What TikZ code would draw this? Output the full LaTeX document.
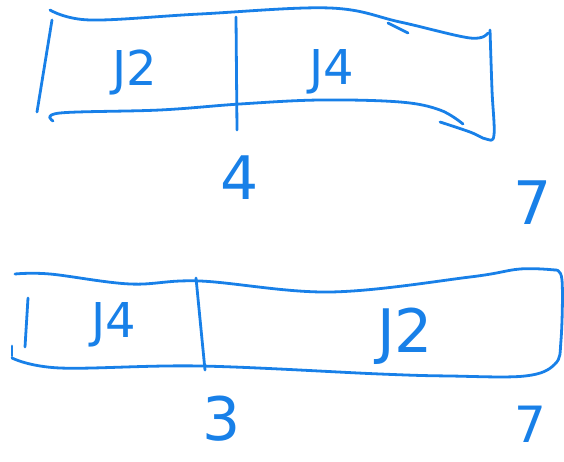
\documentclass[tikz,border=0pt]{standalone}
\usepackage{fontspec}
\setmainfont{DejaVu Sans}
\definecolor{ink}{RGB}{24,128,232}
\begin{document}
\begin{tikzpicture}[x=1pt,y=-1pt,
  stroke/.style={draw=ink,line width=2.8pt,line cap=round,line join=round},
  lbl/.style={text=ink,font=\fontsize{48}{48}\selectfont,inner sep=0pt},
  big/.style={text=ink,font=\fontsize{60}{60}\selectfont,inner sep=0pt}]
\useasboundingbox (0,0) rectangle (564,462);
% ---- top chart ----
\draw[stroke] plot[smooth,tension=0.6] coordinates {(50,10) (90,20) (200,14) (330,8) (400,22) (470,38) (488,33)};
\draw[stroke] (388,23) -- (408,33);
\draw[stroke] (52,20) -- (37,112);
\draw[stroke] plot[smooth,tension=0.6] coordinates {(490,30) (492,90) (494,135) (486,139) (470,132) (440,122)};
\draw[stroke] plot[smooth,tension=0.6] coordinates {(53,121) (60,113) (160,110) (240,104) (320,100) (400,102) (440,110) (463,124)};
\coordinate (d1t) at (236,17);
\coordinate (d1b) at (237,130);
\draw[stroke] (d1t) -- (d1b);
\node[lbl] (j2a) at (135,72) {J2};
\node[lbl] (j4a) at (332,72) {J4};
\node[big] (t4) at (240,178) {4};
\node[big] (t7a) at (533,203) {7};
% ---- bottom chart ----
\draw[stroke] plot[smooth,tension=0.6] coordinates {(15,274) (50,274) (130,284) (200,281) (330,292) (470,277) (520,269) (555,270)};
\draw[stroke] plot[smooth,tension=0.6] coordinates {(555,270) (562,280) (561,340) (555,364) (525,376) (450,376) (380,374) (200,366) (60,368) (12,358)};
\draw[stroke] (12,346) -- (12,356);
\draw[stroke] (28,298) -- (25,347);
\coordinate (d2t) at (196,278);
\coordinate (d2b) at (205,370);
\draw[stroke] (d2t) -- (d2b);
\node[lbl] (j4b) at (114,325) {J4};
\node[big] (j2b) at (405,336) {J2};
\node[big] (t3) at (222,419) {3};
\node[text=ink,font=\fontsize{50}{50}\selectfont,inner sep=0pt] (t7b) at (530,424) {7};
\end{tikzpicture}
\end{document}
